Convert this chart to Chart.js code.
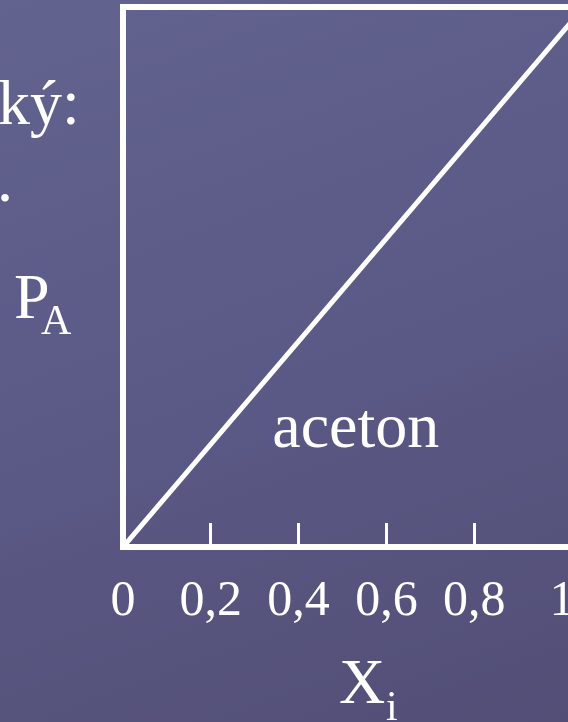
<!DOCTYPE html>
<html>
<head>
<meta charset="utf-8">
<script src="https://cdn.jsdelivr.net/npm/chart.js@4"></script>
<style>
  html, body {
    margin: 0;
    padding: 0;
    width: 568px;
    height: 722px;
    overflow: hidden;
    background: linear-gradient(160deg, #63638f 0%, #5a5884 55%, #524e76 100%);
  }
  canvas { display: block; }
</style>
</head>
<body>
<canvas id="chart" width="600" height="722"></canvas>
<script>
  // values
  var xTickValues = [0, 0.2, 0.4, 0.6, 0.8, 1];
  var xTickLabels = ["0", "0,2", "0,4", "0,6", "0,8", "1"];
  var lineX = [0, 1.05];   // the line runs into the top right corner
  var lineY = [0, 1];
  var seriesLabel = "aceton";

  var serif = "'Liberation Serif', 'Times New Roman', serif";

  // frame round the plot area
  var frame = {
    id: "frame",
    beforeDatasetsDraw: function(chart) {
      var a = chart.chartArea, ctx = chart.ctx;
      ctx.save();
      ctx.strokeStyle = "#ffffff";
      ctx.lineWidth = 6;
      ctx.strokeRect(a.left, a.top, a.right - a.left, a.bottom - a.top);
      ctx.restore();
    }
  };

  // slide texts, axis titles with subscripts, series label
  var texts = {
    id: "texts",
    afterDraw: function(chart) {
      var ctx = chart.ctx, x = chart.scales.x, y = chart.scales.y;
      ctx.save();
      ctx.fillStyle = "#ffffff";
      ctx.textBaseline = "alphabetic";
      ctx.textAlign = "left";

      ctx.font = "64px " + serif;
      ctx.fillText("ký:", -2, 124);
      ctx.fillText(".", -3, 201);

      // P_A
      ctx.fillText("P", 14, 318);
      ctx.font = "42px " + serif;
      ctx.fillText("A", 41, 334);

      // X_i
      ctx.font = "64px " + serif;
      ctx.fillText("X", 339, 703);
      ctx.font = "42px " + serif;
      ctx.fillText("i", 386, 720);

      // series label placed in data space
      ctx.font = "64px " + serif;
      ctx.fillText(seriesLabel, x.getPixelForValue(0.34), y.getPixelForValue(0.185));
      ctx.restore();
    }
  };

  var points = lineX.map(function(v, i) { return { x: v, y: lineY[i] }; });

  new Chart(document.getElementById("chart"), {
    type: "line",
    data: {
      datasets: [{
        label: seriesLabel,
        data: points,
        borderColor: "#ffffff",
        borderWidth: 5,
        pointRadius: 0,
        tension: 0
      }]
    },
    options: {
      responsive: false,
      animation: false,
      devicePixelRatio: 1,
      layout: { padding: { left: 123, right: 16, top: 7, bottom: 41 } },
      plugins: { legend: { display: false }, tooltip: { enabled: false } },
      scales: {
        x: {
          type: "linear",
          min: 0,
          max: 1.05,
          afterBuildTicks: function(scale) {
            scale.ticks = xTickValues.map(function(v) { return { value: v }; });
          },
          afterFit: function(scale) {
            // labels never reach the edges here, so no extra side room
            scale.paddingLeft = 0;
            scale.paddingRight = 0;
          },
          border: { display: false },
          grid: {
            drawOnChartArea: false,
            drawTicks: true,
            tickLength: -24,
            lineWidth: 3,
            color: function(c) {
              var v = c.tick ? c.tick.value : 0;
              return (v > 0 && v < 1) ? "#ffffff" : "rgba(0,0,0,0)";
            }
          },
          ticks: {
            autoSkip: false,
            maxRotation: 0,
            padding: 49,
            color: "#ffffff",
            font: { family: serif, size: 50 },
            callback: function(value) {
              var i = xTickValues.indexOf(value);
              return i < 0 ? "" : xTickLabels[i];
            }
          }
        },
        y: {
          type: "linear",
          min: 0,
          max: 1,
          display: false
        }
      }
    },
    plugins: [frame, texts]
  });
</script>
</body>
</html>
